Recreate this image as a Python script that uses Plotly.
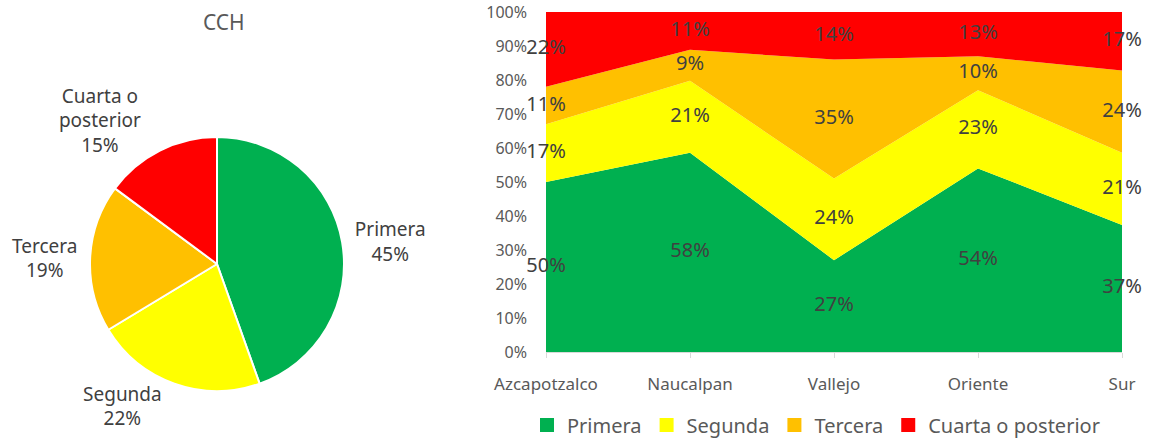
import plotly.graph_objects as go

# ---- data ----
pie_title = "CCH"
pie_labels = ["Primera", "Segunda", "Tercera", "Cuarta o posterior"]
pie_values = [45, 22, 19, 15]

planteles = ["Azcapotzalco", "Naucalpan", "Vallejo", "Oriente", "Sur"]
series_names = ["Primera", "Segunda", "Tercera", "Cuarta o posterior"]
primera = [50, 58, 27, 54, 37]
segunda = [17, 21, 24, 23, 21]
tercera = [11, 9, 35, 10, 24]
cuarta = [22, 11, 14, 13, 17]
y_ticks = [0, 10, 20, 30, 40, 50, 60, 70, 80, 90, 100]

colors = ["#00B050", "#FFFF00", "#FFC000", "#FF0000"]
text_color = "#404040"
axis_color = "#595959"
FONT = "Noto Sans"

series = [primera, segunda, tercera, cuarta]

W, H = 1149, 442


def fx(px):
    return px / W


def fy(py):
    return 1 - py / H


fig = go.Figure()

# ---- pie ----
pie_text = [l.replace(" o ", " o<br>") for l in pie_labels]
fig.add_trace(go.Pie(
    labels=pie_labels, values=pie_values, text=pie_text,
    sort=False, direction="clockwise", rotation=0,
    marker=dict(colors=colors, line=dict(color="white", width=2)),
    texttemplate="%{text}<br>%{percent:.0%}", textposition="outside",
    textfont=dict(size=19, color=text_color, family=FONT),
    showlegend=False, hoverinfo="label+percent",
    domain=dict(x=[fx(90), fx(344)], y=[fy(391), fy(137)]),
))

# ---- stacked 100% area ----
totals = [sum(s[i] for s in series) for i in range(len(planteles))]
cum = [0.0] * len(planteles)
for name, vals, col in zip(series_names, series, colors):
    fig.add_trace(go.Scatter(
        x=planteles, y=vals, name=name, stackgroup="one", groupnorm="percent",
        mode="lines", line=dict(width=0, color=col), fillcolor=col,
        xaxis="x", yaxis="y", hoverinfo="x+y+name", showlegend=False,
    ))
    mids = []
    for i, v in enumerate(vals):
        share = v / totals[i] * 100
        mids.append(cum[i] + share / 2)
        cum[i] += share
    fig.add_trace(go.Scatter(
        x=planteles, y=mids, mode="text",
        text=[f"{v}%" for v in vals], textposition="middle center",
        textfont=dict(size=20, color=text_color, family=FONT),
        cliponaxis=False,
        showlegend=False, hoverinfo="skip", xaxis="x", yaxis="y",
    ))

# legend entries (square swatches)
for name, col in zip(series_names, colors):
    fig.add_trace(go.Scatter(
        x=[None], y=[None], mode="markers", name=name,
        marker=dict(symbol="square", size=14, color=col),
        xaxis="x", yaxis="y", hoverinfo="skip",
    ))

fig.update_layout(
    width=W, height=H,
    margin=dict(l=0, r=0, t=0, b=0, autoexpand=False),
    paper_bgcolor="white", plot_bgcolor="white",
    font=dict(family=FONT, color=axis_color),
    xaxis=dict(
        domain=[fx(546), fx(1122)], range=[0, 4], type="category",
        showgrid=False, showline=True, linecolor="#D9D9D9", linewidth=1,
        ticks="outside", ticklen=5, tickcolor="#D9D9D9",
        tickfont=dict(size=17, color=axis_color, family=FONT),
        ticklabelstandoff=12, automargin=False, ticklabeloverflow="allow",
        fixedrange=True,
    ),
    yaxis=dict(
        domain=[fy(352), fy(12)], range=[0, 100],
        tickvals=y_ticks, ticktext=[f"{t}%" for t in y_ticks],
        showgrid=False, zeroline=False, showline=False,
        tickfont=dict(size=16, color=axis_color, family=FONT),
        ticklabelstandoff=18, automargin=False, ticklabeloverflow="allow",
    ),
    legend=dict(
        orientation="h", x=fx(816), xanchor="center", y=fy(425), yanchor="middle",
        font=dict(size=20, color=axis_color, family=FONT),
        traceorder="normal", itemwidth=30,
    ),
    annotations=[dict(
        text=pie_title, x=fx(224), y=fy(22), xref="paper", yref="paper",
        xanchor="center", yanchor="middle",
        showarrow=False, font=dict(size=21, color=axis_color, family=FONT),
    )],
)

fig.write_html(
    "out.html",
    config={"displayModeBar": False},
    post_script="document.body.style.margin='0';document.body.style.overflow='hidden';",
)
